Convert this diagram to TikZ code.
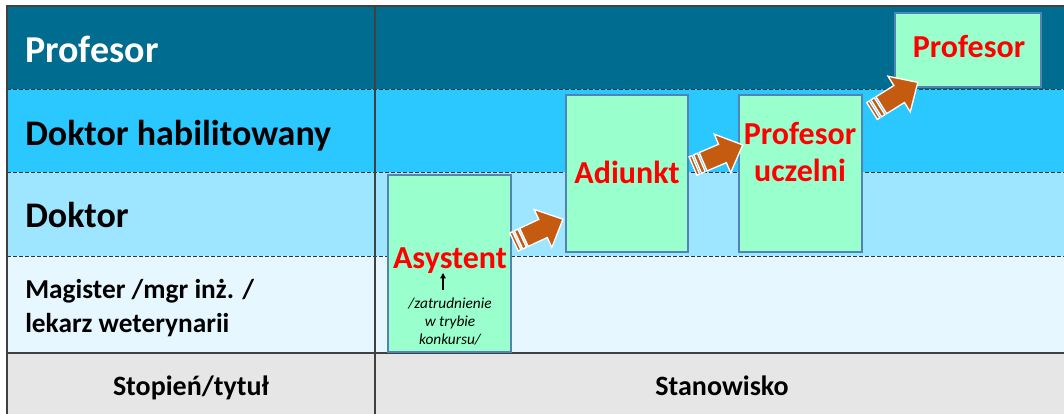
\documentclass[tikz,border=0pt]{standalone}
\usepackage{fontspec}
\setmainfont{Carlito}
\usetikzlibrary{arrows.meta}
\definecolor{rowprof}{RGB}{0,108,143}
\definecolor{rowhab}{RGB}{43,200,255}
\definecolor{rowdr}{RGB}{158,229,255}
\definecolor{rowmgr}{RGB}{230,247,255}
\definecolor{rowfoot}{RGB}{230,230,230}
\definecolor{boxfill}{RGB}{153,255,204}
\definecolor{boxline}{RGB}{84,130,180}
\definecolor{arrowfill}{RGB}{197,90,17}
\tikzset{
  sep/.style={draw=black!80,line width=0.6pt,dash pattern=on 3pt off 1.5pt},
  frame/.style={draw=black!75,line width=1pt},
  post/.style={draw=boxline,fill=boxfill,line width=1pt},
  degree/.style={font=\bfseries\fontsize{27}{32}\selectfont,inner sep=0pt},
  smalldegree/.style={font=\bfseries\fontsize{20.5}{25}\selectfont,inner sep=0pt,align=left},
  foot/.style={font=\bfseries\fontsize{21}{25}\selectfont,inner sep=0pt},
  title/.style={text=red,font=\bfseries\fontsize{24}{28}\selectfont,inner sep=0pt,align=center},
  note/.style={font=\itshape\fontsize{11.5}{13.5}\selectfont,inner sep=0pt,align=center},
  bigarrow/.style={fill=arrowfill,draw=white,line width=1pt,line join=miter},
}

\begin{document}
\begin{tikzpicture}[x=0.75pt,y=-0.75pt]
  \useasboundingbox (0,0) rectangle (1064,414);

  % rows
  \foreach \rtop/\rbot/\rcol in {6/89/rowprof, 89/172/rowhab, 172/256/rowdr, 256/353/rowmgr, 353/414/rowfoot} {
    \fill[\rcol] (7,\rtop) rectangle (1064,\rbot);
  }
  \foreach \ry in {89, 172, 256} {
    \draw[sep] (7,\ry) -- (1064,\ry);
  }
  \draw[frame] (7,414) -- (7,6) -- (1064,6);
  \draw[frame] (7,353) -- (1064,353);
  \draw[frame] (375,6) -- (375,414);

  % stopien / tytul
  \node[degree,font=\bfseries\fontsize{28.5}{34}\selectfont,text=white,anchor=base west] (prof) at (25,62) {Profesor};
  \node[degree,anchor=base west] (hab) at (25,145) {Doktor habilitowany};
  \node[degree,anchor=base west] (dr) at (25,227) {Doktor};
  \node[smalldegree,anchor=west] (mgr) at (25,308) {Magister /mgr inż. /\\lekarz weterynarii};
  \node[foot,anchor=base] (stopien) at (191,395) {Stopień/tytuł};
  \node[foot,anchor=base] (stanowisko) at (722,395) {Stanowisko};

  % stanowiska
  \draw[post] (388,175) rectangle (511,352);
  \draw[post] (566,95) rectangle (688,252);
  \draw[post] (739,95) rectangle (862,252);
  \draw[post] (895,13) rectangle (1041,87);

  \node[title,anchor=base] (asystent) at (450,268) {Asystent};
  \node[title,anchor=base] (adiunkt) at (627,183) {Adiunkt};
  \node[title] (uczelni) at (800,152) {Profesor\\uczelni};
  \node[title,anchor=base] (profesor) at (969,57) {Profesor};
  \node[note] (konkurs) at (450,322) {/zatrudnienie\\w trybie\\konkursu/};

  \coordinate (uptip) at (443,273);
  \coordinate (upfoot) at (443,290);
  \draw[-{Triangle[length=4pt,width=4pt]},line width=0.9pt] (upfoot) -- (uptip);

  % awans
  \foreach \ax/\ay/\ang in {514/242/25, 693/166/23, 872/111/32} {
    \begin{scope}[shift={(\ax,\ay)},rotate=\ang]
      \draw[bigarrow] (11,-10) -- (32,-10) -- (32,-21) -- (54,0) -- (32,21) -- (32,10) -- (11,10) -- cycle;
      \draw[bigarrow] (0,-10) rectangle (3,10);
      \draw[bigarrow] (5,-10) rectangle (9,10);
    \end{scope}
  }
\end{tikzpicture}
\end{document}
